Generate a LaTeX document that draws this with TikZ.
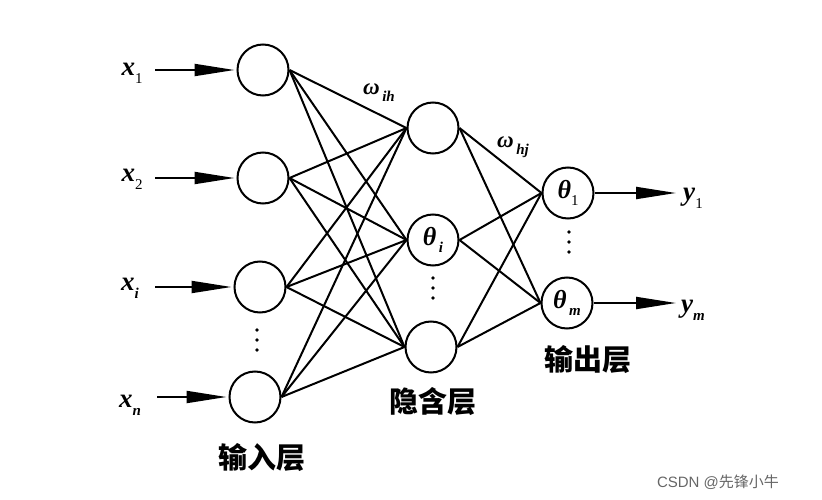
\documentclass[tikz,border=0pt]{standalone}
\usepackage{fontspec}
\setmainfont{Liberation Serif}
\setsansfont{Liberation Sans}
\newfontfamily\cjk{Noto Sans CJK SC}
\usetikzlibrary{arrows,arrows.meta,positioning,shapes}

% symbol with a lowered index
\newcommand{\symb}[2]{\textbf{\textit{#1}}\raisebox{-0.3em}{\fontsize{15}{15}\selectfont #2}}

\begin{document}
\begin{tikzpicture}[x=1pt,y=-1pt,line width=2pt]
\tikzstyle{neuron}=[shape=circle,draw,line width=2pt,minimum size=51pt,inner sep=0pt,font=\fontsize{26}{26}\selectfont]
\tikzstyle{sig}=[font=\fontsize{27}{27}\selectfont,inner sep=0pt]
\tikzstyle{layer}=[font=\cjk\bfseries\fontsize{29}{29}\selectfont,inner sep=0pt]
\tikzstyle{feed}=[-{Triangle[length=40pt,width=12pt]},line width=2pt]

\useasboundingbox (0,0) rectangle (822,500);

% input layer
\node[neuron]      (I1) at (263,70)  {};
\node[neuron]      (I2) at (263,178) {};
\node[neuron]      (I3) at (260,287) {};
\node[neuron]      (I4) at (255,397) {};
% hidden layer
\node[neuron]      (H1) at (433,128) {};
\node[neuron]      (H2) at (433,240) {\symb{θ}{\,\textbf{\textit{i}}}};
\node[neuron]      (H3) at (431,347) {};
% output layer
\node[neuron]      (O1) at (568,193) {\symb{θ}{1}};
\node[neuron]      (O2) at (567,303) {\symb{θ}{\,\textbf{\textit{m}}}};

% inputs
\node[sig]         (X1) at (132,73)  {\symb{x}{1}};
\node[sig]         (X2) at (132,179) {\symb{x}{2}};
\node[sig]         (X3) at (130,288) {\symb{x}{\textbf{\textit{i}}}};
\node[sig]         (X4) at (130,405) {\symb{x}{\textbf{\textit{n}}}};
\coordinate        (S1) at (155,70);
\coordinate        (S2) at (155,178);
\coordinate        (S3) at (155,287);
\coordinate        (S4) at (157,397);
% outputs
\node[sig]         (Y1) at (693,198) {\symb{y}{1}};
\node[sig]         (Y2) at (693,310) {\symb{y}{\textbf{\textit{m}}}};
\coordinate        (E1) at (676,193);
\coordinate        (E2) at (676,303);

% weights and layer names
\node[sig,font=\fontsize{23}{23}\selectfont] (W1) at (379,93)  {\symb{ω}{\,\textbf{\textit{ih}}}};
\node[sig,font=\fontsize{23}{23}\selectfont] (W2) at (513,147) {\symb{ω}{\,\textbf{\textit{hj}}}};
\node[layer]       (L1) at (262,458) {输入层};
\node[layer]       (L2) at (433,402) {隐含层};
\node[layer]       (L3) at (588,360) {输出层};

\node[text=gray!80!black,font=\sffamily\fontsize{15}{15}\selectfont] (CS) at (718,482) {CSDN @{\cjk 先锋小牛}};

% dots
\foreach \px/\py in {257/340,433/288,569/242}
  \foreach \d in {-10,0,10}
    \fill (\px,{\py+\d}) circle (1.8pt);

\foreach \i in {1,...,4}
  \draw[feed,shorten >=2pt] (S\i) -- (I\i.west);
\foreach \i in {1,...,4}
  \foreach \h in {1,2,3}
    \draw (I\i.east) -- (H\h.west);
\foreach \h in {1,2,3}
  \foreach \o in {1,2}
    \draw (H\h.east) -- (O\o.west);
\draw[feed] (O1.east) -- (E1);
\draw[feed] (O2.east) -- (E2);
\end{tikzpicture}
\end{document}
